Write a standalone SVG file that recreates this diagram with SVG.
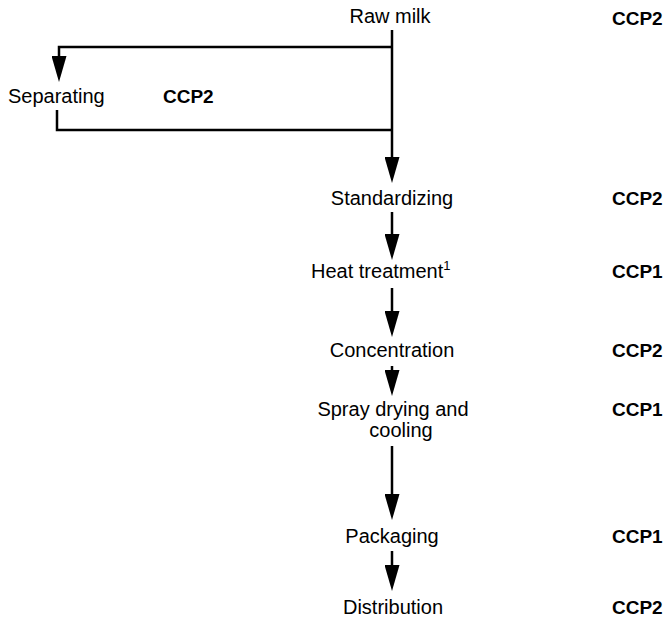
<svg xmlns="http://www.w3.org/2000/svg" width="668" height="623" viewBox="0 0 668 623">
  <style>
    .lbl { font-family: "Liberation Sans", Arial, sans-serif; font-size: 20px; fill: #000; }
    .ccp { font-family: "Liberation Sans", Arial, sans-serif; font-size: 19px; font-weight: bold; fill: #000; }
    .ln { stroke: #000; stroke-width: 2.5; fill: none; }
    .arr { stroke: #000; stroke-width: 2.5; fill: none; marker-end: url(#head); }
  </style>
  <defs>
    <marker id="head" markerUnits="userSpaceOnUse" viewBox="0 0 26 15" refX="16" refY="7.5" markerWidth="26" markerHeight="15" orient="auto">
      <path d="M0,0 L26,7.5 L0,15 Z" fill="#000"/>
    </marker>
  </defs>
  <rect width="668" height="623" fill="#fff"/>

  <g id="connectors">
    <!-- side branch to separator and return -->
    <polyline class="ln" points="392,47 59,47 59,62"/>
    <path class="arr" d="M59,60 L59,72"/>
    <polyline class="ln" points="57,110 57,130 392,130"/>
    <!-- main flow -->
    <path class="arr" d="M392,30 L392,173"/>
    <path class="arr" d="M392,212 L392,250"/>
    <path class="arr" d="M392,288 L392,327"/>
    <path class="arr" d="M392,366 L392,386"/>
    <path class="arr" d="M392,446 L392,510"/>
    <path class="arr" d="M392,551 L392,581"/>
  </g>

  <g id="raw-milk">
    <text class="lbl" x="390" y="23" text-anchor="middle">Raw milk</text>
    <text class="ccp" x="612" y="25">CCP2</text>
  </g>
  <g id="separating">
    <text class="lbl" x="8" y="103">Separating</text>
    <text class="ccp" x="163" y="103">CCP2</text>
  </g>
  <g id="standardizing">
    <text class="lbl" x="392" y="205" text-anchor="middle">Standardizing</text>
    <text class="ccp" x="612" y="205">CCP2</text>
  </g>
  <g id="heat-treatment">
    <text class="lbl" x="311" y="278">Heat treatment<tspan font-size="13" dy="-8">1</tspan></text>
    <text class="ccp" x="612" y="278">CCP1</text>
  </g>
  <g id="concentration">
    <text class="lbl" x="392" y="357" text-anchor="middle">Concentration</text>
    <text class="ccp" x="612" y="357">CCP2</text>
  </g>
  <g id="spray-drying">
    <text class="lbl" x="393" y="416" text-anchor="middle">Spray drying and</text>
    <text class="lbl" x="401" y="437" text-anchor="middle">cooling</text>
    <text class="ccp" x="612" y="416">CCP1</text>
  </g>
  <g id="packaging">
    <text class="lbl" x="392" y="543" text-anchor="middle">Packaging</text>
    <text class="ccp" x="612" y="543">CCP1</text>
  </g>
  <g id="distribution">
    <text class="lbl" x="393" y="614" text-anchor="middle">Distribution</text>
    <text class="ccp" x="612" y="614">CCP2</text>
  </g>
</svg>
